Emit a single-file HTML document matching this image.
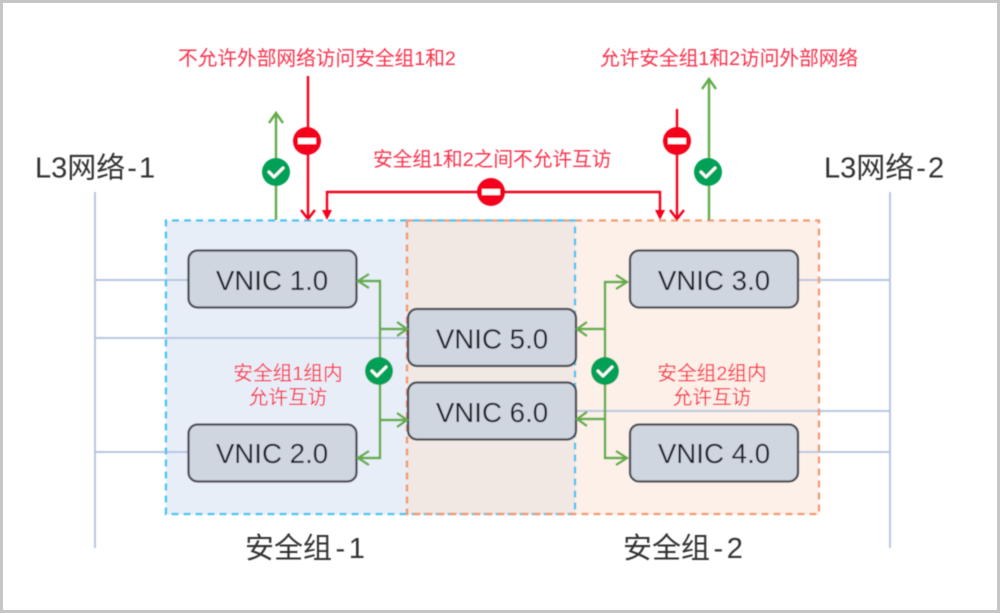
<!DOCTYPE html>
<html><head><meta charset="utf-8"><style>
html,body{margin:0;padding:0;background:#fff}
svg{display:block}
text{font-family:"Liberation Sans","Noto Sans CJK SC",sans-serif}
.red{font-size:19.700px;fill:#f8324c}
.big{font-size:29px;fill:#333}
.v{font-size:27.700px;fill:#1e2228;text-anchor:middle}
.box{fill:#cfd6e0;stroke:#484c53;stroke-width:2.300}
.g{fill:none;stroke:#63ac4a;stroke-width:2.400}
.r{fill:none;stroke:#f5001e;stroke-width:2.400}
.b{fill:none;stroke:#b7c6e0;stroke-width:2}
</style></head><body>
<svg width="1000" height="613" viewBox="0 0 1000 613" xmlns="http://www.w3.org/2000/svg">
<defs><filter id="s" x="-2%" y="-2%" width="104%" height="104%"><feGaussianBlur stdDeviation="0.5"/></filter></defs>
<rect width="1000" height="613" fill="#fff"/>
<g filter="url(#s)">
<!-- zones -->
<rect x="166" y="220.500" width="241" height="294" fill="#e8eef8"/>
<rect x="407" y="220.500" width="168" height="294" fill="#f2e8e3"/>
<rect x="575" y="220.500" width="244" height="294" fill="#fdf0e8"/>
<!-- network lines -->
<path class="b" d="M95 192V548M890 192V548M95 280H188M95 338H408M95 452H188M798 280H890M576 411H890M798 452H890"/>
<path d="M407 220.500H819V514H407Z" fill="none" stroke="#f39a6e" stroke-width="2.300" stroke-dasharray="7 5"/>
<path d="M407 220.500H166V514H575V220.500H407" fill="none" stroke="#3cc4f2" stroke-width="2.300" stroke-dasharray="7 5"/>
<path d="M407 220.500V514H575" fill="none" stroke="#f39a6e" stroke-width="2.300" stroke-dasharray="7 5"/>
<!-- boxes -->
<rect class="box" x="188.500" y="250.500" width="168" height="57" rx="9"/>
<rect class="box" x="630" y="250.500" width="168" height="57" rx="9"/>
<rect class="box" x="408" y="309" width="168" height="57" rx="9"/>
<rect class="box" x="408" y="382.500" width="168" height="57" rx="9"/>
<rect class="box" x="188.500" y="424.500" width="168" height="57" rx="9"/>
<rect class="box" x="630" y="424.500" width="168" height="57" rx="9"/>
<text class="v" x="272" y="290">VNIC 1.0</text>
<text class="v" x="714" y="290">VNIC 3.0</text>
<text class="v" x="492" y="348.500">VNIC 5.0</text>
<text class="v" x="492" y="422">VNIC 6.0</text>
<text class="v" x="272" y="463">VNIC 2.0</text>
<text class="v" x="714" y="463">VNIC 4.0</text>
<!-- green internal -->
<path class="g" d="M358 281H380V458H358M380 329H407M380 420H407"/>
<path class="g" d="M369 274L358 281L369 288M369 451L358 458L369 465M397 322L407 329L397 336M397 413L407 420L397 427"/>
<path class="g" d="M627 282H605V458H627M605 329H577M605 419H577"/>
<path class="g" d="M616 275L627 282L616 289M616 451L627 458L616 465M587 322L577 329L587 336M587 412L577 419L587 426"/>
<!-- green up -->
<path class="g" d="M276 220V113M269 123L276 113L283 123"/>
<path class="g" d="M709 220V79M702 89L709 79L716 89"/>
<!-- red -->
<path class="r" d="M308 76V219M301 210L308 219L315 210"/>
<path class="r" d="M677 109V219M670 210L677 219L684 210"/>
<path class="r" d="M327 210V192H660V210"/>
<path d="M322 210H332L327 220ZM655 210H665L660 220Z" fill="#f5001e"/>
<!-- stops -->
<g id="stops" fill="#f5001e">
<circle cx="307" cy="141" r="14"/><circle cx="677" cy="141" r="14"/><circle cx="491" cy="192" r="14"/>
</g>
<path d="M298 138H316V144H298ZM668 138H686V144H668ZM482 189H500V195H482Z" fill="#fff"/>
<!-- checks -->
<g fill="#00a156">
<circle cx="276" cy="172" r="14"/><circle cx="708" cy="172" r="14"/><circle cx="379" cy="371" r="14"/><circle cx="605" cy="371" r="14"/>
</g>
<g fill="none" stroke="#fff" stroke-width="3" stroke-linecap="round" stroke-linejoin="round">
<path d="M269 172L274 177L283 168M701 172L706 177L715 168M372 371L377 376L386 367M598 371L603 376L612 367"/>
</g>
<!-- text -->
<text class="red" x="178" y="65">不允许外部网络访问安全组1和2</text>
<text class="red" x="600" y="65">允许安全组1和2访问外部网络</text>
<text class="red" x="373" y="166">安全组1和2之间不允许互访</text>
<text class="red" x="288" y="380" text-anchor="middle">安全组1组内</text>
<text class="red" x="288" y="404" text-anchor="middle">允许互访</text>
<text class="red" x="712" y="380" text-anchor="middle">安全组2组内</text>
<text class="red" x="712" y="404" text-anchor="middle">允许互访</text>
<text class="big" x="35" y="177.500">L3网络<tspan dx="2">-</tspan><tspan dx="2">1</tspan></text>
<text class="big" x="824" y="177.500">L3网络<tspan dx="2">-</tspan><tspan dx="2">2</tspan></text>
<text class="big" x="245" y="558">安全组<tspan dx="3.500">-</tspan><tspan dx="3.500">1</tspan></text>
<text class="big" x="623" y="558">安全组<tspan dx="3.500">-</tspan><tspan dx="3.500">2</tspan></text>
</g>
<rect x="1.500" y="1.500" width="997" height="610" fill="none" stroke="#c6c6c6" stroke-width="3"/>
</svg>
</body></html>
